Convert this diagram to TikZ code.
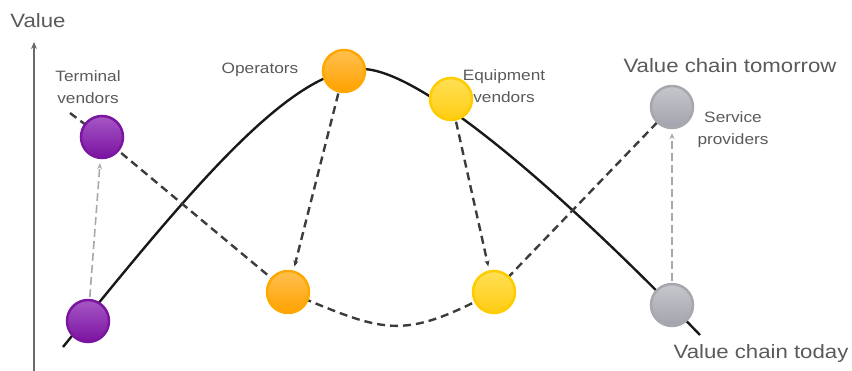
\documentclass[tikz,border=0pt]{standalone}
\usepackage{fontspec}
\newfontfamily\lblfont[FakeStretch=1.15]{Liberation Sans}
\usetikzlibrary{arrows.meta,backgrounds}

\definecolor{txtgray}{HTML}{5A5A5A}
\definecolor{axisgray}{HTML}{6A6A6A}
\definecolor{dashdark}{HTML}{3C3C3C}
\definecolor{dashlight}{HTML}{A8A8A8}

\definecolor{tvedge}{HTML}{7B16A0}
\definecolor{tvtop}{HTML}{A657C6}
\definecolor{tvbot}{HTML}{7A12A0}
\definecolor{opedge}{HTML}{FFA800}
\definecolor{optop}{HTML}{FFC050}
\definecolor{opbot}{HTML}{FFA200}
\definecolor{eqedge}{HTML}{FFCC00}
\definecolor{eqtop}{HTML}{FFE055}
\definecolor{eqbot}{HTML}{FFCC12}
\definecolor{spedge}{HTML}{A6A8AE}
\definecolor{sptop}{HTML}{C6C7CC}
\definecolor{spbot}{HTML}{A2A4AC}

\tikzset{
    player/.style={circle, minimum size=42pt, inner sep=0pt, line width=2.5pt},
    lbl/.style={font=\lblfont\fontsize{15}{22}\selectfont, text=txtgray, align=center, inner sep=0pt},
    biglbl/.style={font=\lblfont\fontsize{19.3}{22}\selectfont, text=txtgray, inner sep=0pt},
    todaycurve/.style={line width=2.4pt, draw=black!90},
    tomorrowcurve/.style={line width=2.4pt, draw=dashdark, dash pattern=on 8pt off 5pt},
    fallarrow/.style={line width=2.4pt, draw=dashdark, dash pattern=on 8pt off 5pt, -{Stealth[length=6pt,width=5pt]}, shorten >=4pt, shorten <=1pt},
    risearrow/.style={line width=1.6pt, draw=dashlight, dash pattern=on 8pt off 4pt, -{Stealth[length=6pt,width=5pt]}, shorten >=4pt, shorten <=2pt}
}

\begin{document}
\begin{tikzpicture}[x=1pt, y=-1pt]
    \useasboundingbox (0,0) rectangle (852,370);

    % Axis
    \coordinate (axisbot) at (34,372);
    \coordinate (axistop) at (34,42);
    \draw[line width=2pt, draw=axisgray, -{Stealth[length=7pt,width=6pt]}] (axisbot) -- (axistop);
    \node[biglbl] (valuelbl) at (38,21) {Value};

    % Players
    \node[player, draw=tvedge, top color=tvtop, bottom color=tvbot] (tvtoday) at (88,321) {};
    \node[player, draw=tvedge, top color=tvtop, bottom color=tvbot] (tvtomorrow) at (102,137) {};
    \node[player, draw=opedge, top color=optop, bottom color=opbot] (optoday) at (344,71) {};
    \node[player, draw=opedge, top color=optop, bottom color=opbot] (optomorrow) at (288,292) {};
    \node[player, draw=eqedge, top color=eqtop, bottom color=eqbot] (eqtoday) at (451,99) {};
    \node[player, draw=eqedge, top color=eqtop, bottom color=eqbot] (eqtomorrow) at (494,292) {};
    \node[player, draw=spedge, top color=sptop, bottom color=spbot] (sptoday) at (672,305) {};
    \node[player, draw=spedge, top color=sptop, bottom color=spbot] (sptomorrow) at (672,107) {};

    % Labels
    \node[lbl] (tvlbl) at (88,87) {Terminal\\vendors};
    \node[lbl] (oplbl) at (260,70) {Operators};
    \node[lbl] (eqlbl) at (504,86) {Equipment\\vendors};
    \node[lbl] (splbl) at (733,130) {Service\\providers};
    \node[biglbl] (tomorrowlbl) at (730,66) {Value chain tomorrow};
    \node[biglbl] (todaylbl) at (761,354) {Value chain today};

    \begin{scope}[on background layer]
        % Value chain today
        \coordinate (todaystart) at (63,347);
        \coordinate (todaypeak) at (362,69);
        \coordinate (todayend) at (700,335);
        \draw[todaycurve] (todaystart) .. controls (190,190) and (290,69) .. (todaypeak)
            .. controls (420,69) and (560,190) .. (todayend);

        % Value chain tomorrow
        \coordinate (tvtail) at (70,113);
        \draw[tomorrowcurve] (tvtail) -- (tvtomorrow.center) -- (optomorrow.center)
            .. controls (385,332) and (400,342) .. (eqtomorrow.center) -- (sptomorrow.center);

        % Shifts
        \draw[risearrow] (tvtoday) -- (tvtomorrow);
        \draw[fallarrow] (optoday) -- (optomorrow);
        \draw[fallarrow] (eqtoday) -- (eqtomorrow);
        \draw[risearrow] (sptoday) -- (sptomorrow);
    \end{scope}
\end{tikzpicture}
\end{document}
